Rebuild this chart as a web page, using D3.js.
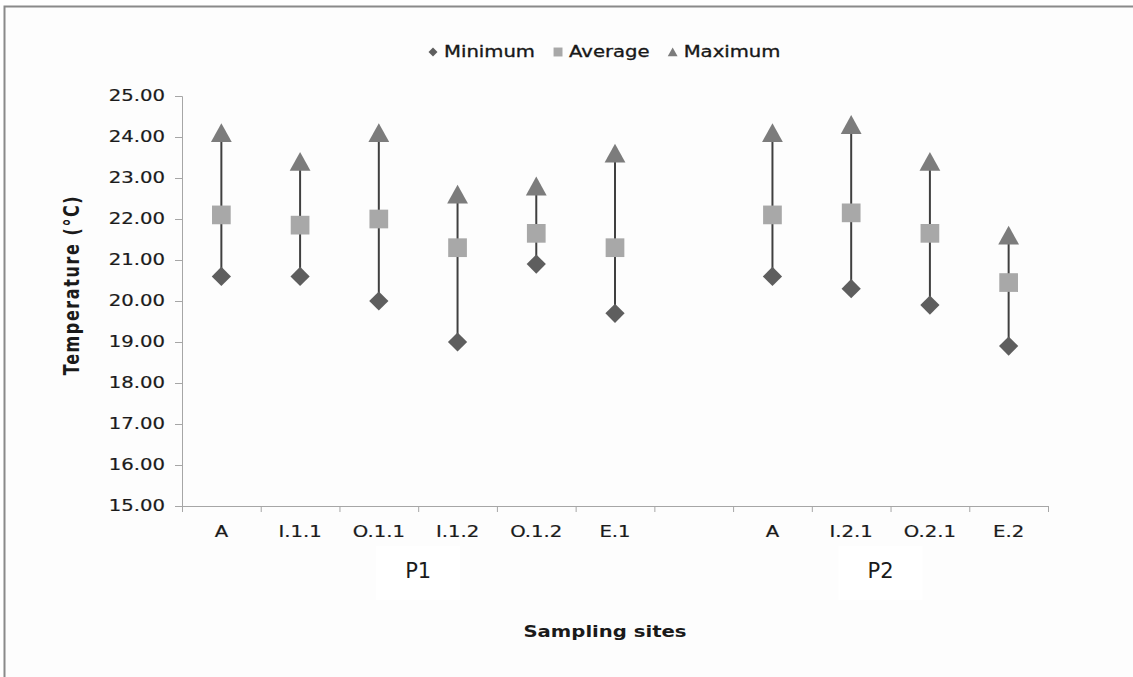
<!DOCTYPE html>
<html>
<head>
<meta charset="utf-8">
<script src="https://cdn.jsdelivr.net/npm/d3@7"></script>
<style>
  body { margin: 0; background: #ffffff; }
  text { font-family: "DejaVu Sans", Verdana, sans-serif; fill: #1a1a1a; }
</style>
</head>
<body>
<script>
// data
const sites = ["A", "I.1.1", "O.1.1", "I.1.2", "O.1.2", "E.1", "", "A", "I.2.1", "O.2.1", "E.2"]
const minimum = [20.6, 20.6, 20.0, 19.0, 20.9, 19.7, null, 20.6, 20.3, 19.9, 18.9]
const average = [22.1, 21.85, 22.0, 21.3, 21.65, 21.3, null, 22.1, 22.15, 21.65, 20.45]
const maximum = [24.1, 23.4, 24.1, 22.6, 22.8, 23.6, null, 24.1, 24.3, 23.4, 21.6]
const groups = [{name: "P1", from: 0, to: 5}, {name: "P2", from: 7, to: 10}]
const yTicks = [15, 16, 17, 18, 19, 20, 21, 22, 23, 24, 25]

const W = 1133, H = 677
const margin = {top: 96, right: 85, bottom: 171, left: 182}
const width = W - margin.left - margin.right
const height = H - margin.top - margin.bottom
const SX = 1.31   // picture is stretched sideways, text too

const colMin = "#5e5e5e", colAvg = "#a8a8a8", colMax = "#7c7c7c"

const svg = d3.select("body").append("svg")
    .attr("width", W)
    .attr("height", H)

// frame
svg.append("rect")
    .attr("x", 4.5).attr("y", 6.5)
    .attr("width", W + 20).attr("height", H + 20)
    .attr("fill", "#fdfdfd")
    .attr("stroke", "#8a8a8a")
    .attr("stroke-width", 2)

function stretch(sel, extra) {
    sel.each(function () {
        const t = d3.select(this)
        const x = +t.attr("x") || 0
        const y = +t.attr("y") || 0
        t.attr("transform", "translate(" + x + "," + y + ") scale(" + SX + ",1)" + (extra || ""))
            .attr("x", 0).attr("y", 0)
    })
}

const g = svg.append("g")
    .attr("transform", "translate(" + margin.left + "," + margin.top + ")")

const idx = d3.range(sites.length)

// scales
const x = d3.scaleBand().domain(idx).range([0, width])
const xEdge = d3.scaleLinear().domain([0, sites.length]).range([0, width])
const y = d3.scaleLinear().domain([15, 25]).range([height, 0])

// Y axis
const yAxis = g.append("g")
    .call(d3.axisLeft(y).tickValues(yTicks).tickFormat(d3.format(".2f")).tickSize(7).tickPadding(10))
yAxis.select(".domain").attr("stroke", "#a6a6a6")
yAxis.selectAll(".tick line").attr("stroke", "#a6a6a6")
yAxis.selectAll("text")
    .attr("font-size", 15)
    .attr("fill", "#222")
    .attr("stroke", "#222")
    .attr("stroke-width", 0.2)
    .call(stretch)

// X axis: boundary ticks + centered labels
const xAxis = g.append("g")
    .attr("transform", "translate(0," + height + ")")
    .call(d3.axisBottom(xEdge).tickValues(d3.range(sites.length + 1)).tickFormat("").tickSize(6).tickSizeOuter(0))
xAxis.select(".domain").attr("stroke", "#a6a6a6")
xAxis.selectAll(".tick line").attr("stroke", "#a6a6a6")

const xLab = g.append("g")
    .attr("transform", "translate(0," + height + ")")
    .call(d3.axisBottom(x).tickFormat(i => sites[i]).tickSize(0).tickPadding(20))
xLab.select(".domain").remove()
xLab.selectAll("text")
    .attr("font-size", 15)
    .attr("fill", "#222")
    .attr("stroke", "#222")
    .attr("stroke-width", 0.2)
    .call(stretch)

// group labels with their white boxes
groups.forEach(function (gr) {
    const cx = (x(gr.from) + x(gr.to) + x.bandwidth()) / 2 - (gr.from > 0 ? 10 : 0)
    g.append("rect")
        .attr("x", cx - 42).attr("y", height + 40)
        .attr("width", 84).attr("height", 54)
        .attr("fill", "#ffffff")
    g.append("text")
        .attr("x", cx).attr("y", height + 72)
        .attr("text-anchor", "middle")
        .attr("font-family", "'Noto Sans', sans-serif")
        .attr("font-size", 21)
        .attr("fill", "#111")
        .text(gr.name)
})

// axis titles
g.append("text")
    .attr("x", width / 2 - 10).attr("y", height + 131)
    .attr("text-anchor", "middle")
    .attr("font-size", 15)
    .attr("font-weight", "bold")
    .attr("fill", "#111")
    .text("Sampling sites")
    .call(stretch)

g.append("text")
    .attr("x", -103).attr("y", height / 2 - 16)
    .attr("text-anchor", "middle")
    .attr("font-size", 16)
    .attr("font-weight", "bold")
    .attr("letter-spacing", 1.6)
    .attr("fill", "#111")
    .text("Temperature (°C)")
    .call(stretch, " rotate(-90)")

// markers
const triangle = {
    draw(ctx, size) {
        const s = Math.sqrt(size)
        ctx.moveTo(0, -s * 0.48)
        ctx.lineTo(s * 0.52, s * 0.46)
        ctx.lineTo(-s * 0.52, s * 0.46)
        ctx.closePath()
    }
}

const rows = idx.filter(i => minimum[i] != null)
const cx = i => x(i) + x.bandwidth() / 2

g.selectAll(".range")
    .data(rows)
    .join("line")
    .attr("class", "range")
    .attr("x1", cx).attr("x2", cx)
    .attr("y1", i => y(minimum[i]))
    .attr("y2", i => y(maximum[i]))
    .attr("stroke", "#404040")
    .attr("stroke-width", 2)

g.selectAll(".min")
    .data(rows)
    .join("path")
    .attr("class", "min")
    .attr("d", d3.symbol(d3.symbolSquare, 185))
    .attr("transform", i => "translate(" + cx(i) + "," + y(minimum[i]) + ") rotate(45)")
    .attr("fill", colMin)

g.selectAll(".avg")
    .data(rows)
    .join("path")
    .attr("class", "avg")
    .attr("d", d3.symbol(d3.symbolSquare, 350))
    .attr("transform", i => "translate(" + cx(i) + "," + y(average[i]) + ")")
    .attr("fill", colAvg)

g.selectAll(".max")
    .data(rows)
    .join("path")
    .attr("class", "max")
    .attr("d", d3.symbol(triangle, 400))
    .attr("transform", i => "translate(" + cx(i) + "," + y(maximum[i]) + ")")
    .attr("fill", colMax)

// legend
const legendItems = [
    {name: "Minimum", col: colMin, sym: d3.symbol(d3.symbolSquare, 40), rot: 45},
    {name: "Average", col: colAvg, sym: d3.symbol(d3.symbolSquare, 80), rot: 0},
    {name: "Maximum", col: colMax, sym: d3.symbol(triangle, 90), rot: 0}
]
const legend = svg.append("g").attr("transform", "translate(0,52)")
let lx = 433
legendItems.forEach(function (it) {
    legend.append("path")
        .attr("d", it.sym)
        .attr("transform", "translate(" + lx + ",0) rotate(" + it.rot + ")")
        .attr("fill", it.col)
    const t = legend.append("text")
        .attr("x", lx + 11).attr("y", 0)
        .attr("dy", "0.35em")
        .attr("font-size", 15)
        .attr("fill", "#111")
        .attr("stroke", "#111")
        .attr("stroke-width", 0.3)
        .text(it.name)
        .call(stretch)
    lx += 11 + t.node().getComputedTextLength() * SX + 23
})
</script>
</body>
</html>
